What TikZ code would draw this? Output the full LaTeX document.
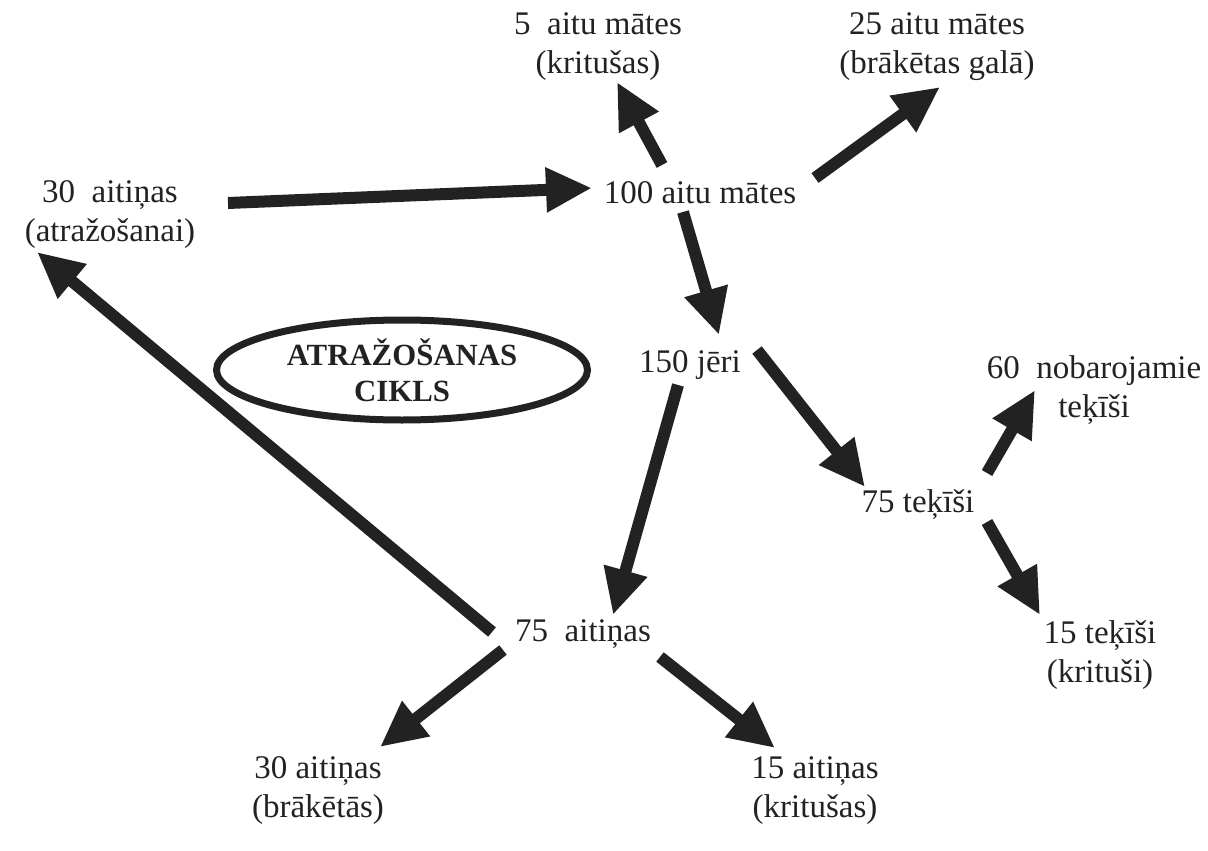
\documentclass[tikz,border=0pt]{standalone}
\usepackage{fontspec}
\setmainfont{LiberationSerif}[Extension=.ttf, UprightFont=*-Regular, BoldFont=*-Bold]
\usetikzlibrary{calc,arrows.meta,shapes.geometric}
\definecolor{ink}{RGB}{34,34,34}
\tikzset{
	lbl/.style={text=ink, align=center, inner sep=0pt, font=\fontsize{16.5}{19.5}\selectfont},
	arr/.style={draw=ink, line width=6pt, -{Triangle[length=23pt,width=21pt]}},
	cyc/.style={ellipse, draw=ink, line width=3.5pt, minimum width=185.5pt, minimum height=50pt,
		inner sep=0pt, text=ink, align=center, font=\fontsize{15.4}{18}\selectfont\bfseries}
}

\begin{document}
\begin{tikzpicture}[x=0.5pt,y=-0.5pt]
			%%%%% START %%%%%
			\useasboundingbox (0,0) rectangle (1208,850);
			
			\node[lbl] (m5) at (598,47) {5~ aitu mātes\\(kritušas)};
			\node[lbl] (m25) at (937,47) {25 aitu mātes\\(brākētas galā)};
			\node[lbl] (a30r) at (110,215) {30~ aitiņas\\(atražošanai)};
			\node[lbl] (m100) at (700,193) {100 aitu mātes};
			\node[cyc] (cikls) at (402,370) {ATRAŽOŠANAS\\CIKLS};
			\node[lbl] (j150) at (690,365) {150 jēri};
			\node[lbl] (t60) at (1094,390) {60~ nobarojamie\\teķīši};
			\node[lbl] (t75) at (918,505) {75 teķīši};
			\node[lbl] (t15) at (1100,655) {15 teķīši\\(krituši)};
			\node[lbl] (a75) at (583,634) {75~ aitiņas};
			\node[lbl] (a30b) at (318,791) {30 aitiņas\\(brākētās)};
			\node[lbl] (a15) at (815,791) {15 aitiņas\\(kritušas)};
			
			% mates
			\draw[arr] ($(a30r)+(118,-12)$) -- ($(m100)+(-108,-5)$);
			\draw[arr] ($(m100)+(-38,-28)$) -- ($(m5)+(19,35)$);
			\draw[arr] ($(m100)+(115,-15)$) -- ($(m25)+(3,40)$);
			\draw[arr] ($(m100)+(-17,19)$) -- ($(j150)+(29,-30)$);
			
			% teki
			\draw[arr] ($(j150)+(67,-15)$) -- ($(t75)+(-53,-18)$);
			\draw[arr] ($(t75)+(69,-32)$) -- ($(t60)+(-59,0)$);
			\draw[arr] ($(t75)+(69,17)$) -- ($(t15)+(-60,-40)$);
			
			% aitinas
			\draw[arr] ($(j150)+(-12,20)$) -- ($(a75)+(30,-19)$);
			\draw[arr] ($(a75)+(-91,-2)$) -- ($(a30r)+(-73,37)$);
			\draw[arr] ($(a75)+(-80,16)$) -- ($(a30b)+(62,-44)$);
			\draw[arr] ($(a75)+(77,23)$) -- ($(a15)+(-40,-43)$);
			
			%%%%% END %%%%%
\end{tikzpicture}
\end{document}
